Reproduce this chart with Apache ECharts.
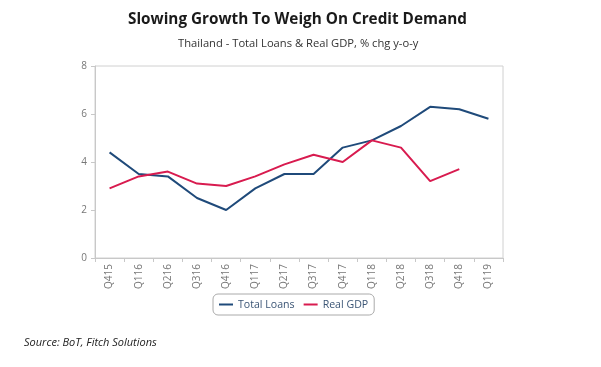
<!DOCTYPE html>
<html><head><meta charset="utf-8">
<script src="https://cdn.jsdelivr.net/npm/echarts@6/dist/echarts.min.js"></script>
<style>html,body{margin:0;padding:0;background:#fff}#c{width:601px;height:367px}</style>
</head><body><div id="c"></div>
<script>
var categories = ['Q415','Q116','Q216','Q316','Q416','Q117','Q217','Q317','Q417','Q118','Q218','Q318','Q418','Q119'];
var totalLoans = [4.4,3.5,3.4,2.5,2.0,2.9,3.5,3.5,4.6,4.9,5.5,6.3,6.2,5.8];
var realGDP = [2.9,3.4,3.6,3.1,3.0,3.4,3.9,4.3,4.0,4.9,4.6,3.2,3.7,null];
var yTicks = [0,2,4,6,8];

var chart = echarts.init(document.getElementById('c'));
chart.setOption({
  animation:false,
  textStyle:{fontFamily:'Open Sans'},
  title:[
    {text:'Slowing Growth To Weigh On Credit Demand',left:123,top:7,textStyle:{fontFamily:'Open Sans',fontWeight:'bold',fontSize:15.3,color:'#1a1a1a'}},
    {text:'Thailand - Total Loans & Real GDP, % chg y-o-y',left:173,top:33,textStyle:{fontFamily:'Open Sans',fontWeight:'normal',fontSize:11.2,color:'#333'}},
    {text:'Source: BoT, Fitch Solutions',left:19,top:332,textStyle:{fontFamily:'Open Sans',fontStyle:'italic',fontWeight:'normal',fontSize:11,color:'#222'}}
  ],
  grid:{left:95,right:98,top:66,bottom:109,show:true,borderColor:'#d0d0d0',borderWidth:1,backgroundColor:'transparent'},
  legend:{data:['Total Loans','Real GDP'],left:213,top:294,icon:'rect',itemWidth:14,itemHeight:2,itemGap:9,
    borderColor:'#aaa',borderWidth:1,borderRadius:5,padding:[5,6],
    textStyle:{color:'#3b5575',fontSize:10.6,fontFamily:'Open Sans'}},
  xAxis:{type:'category',data:categories,boundaryGap:true,
    axisLine:{lineStyle:{color:'#c8c8c8'}},axisTick:{show:true,lineStyle:{color:'#c8c8c8'},length:4},
    axisLabel:{rotate:90,color:'#777',fontSize:10,margin:6}},
  yAxis:{type:'value',min:0,max:8,interval:2,
    axisLine:{show:true,lineStyle:{color:'#c8c8c8'}},axisTick:{show:true,lineStyle:{color:'#c8c8c8'},length:4},
    splitLine:{show:false},
    axisLabel:{color:'#777',fontSize:10,margin:8,formatter:function(v){return yTicks.indexOf(v)>=0?String(v):'';}}},
  series:[
    {name:'Total Loans',type:'line',data:totalLoans,symbol:'none',lineStyle:{color:'#1f4a7a',width:2},itemStyle:{color:'#1f4a7a'}},
    {name:'Real GDP',type:'line',data:realGDP,symbol:'none',lineStyle:{color:'#d81b4f',width:2},itemStyle:{color:'#d81b4f'}}
  ]
});
</script></body></html>
